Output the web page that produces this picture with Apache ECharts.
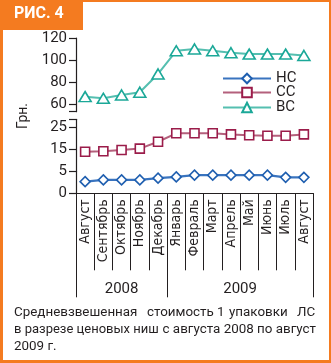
<!DOCTYPE html>
<html><head><meta charset="utf-8">
<script src="https://cdn.jsdelivr.net/npm/echarts@6/dist/echarts.min.js"></script>
<style>html,body{margin:0;padding:0;background:#fff}#c{width:331px;height:363px}</style>
</head><body><div id="c"></div>
<script>
const months = ['Август','Сентябрь','Октябрь','Ноябрь','Декабрь','Январь','Февраль','Март','Апрель','Май','Июнь','Июль','Август'];
const years = ['2008','2009'];
const yearBounds = [0,5,13];
const yearCenters = [2.5,9];
const seriesNames = ['НС','СС','ВС'];
const hcValues = [2.7,3.1,3.1,3.1,3.5,3.8,4.2,4.2,4.2,4.2,4.2,3.7,3.7];
const ccValues = [14.0,14.2,14.8,15.4,18.5,22.3,22.3,22.3,21.8,21.4,21.2,21.2,21.8];
const bcValues = [66.7,65.2,68.2,70.7,87.3,108.4,110,108.4,106.6,105.4,105.4,105.4,104.1];
const upperTicks = [60,80,100,120];
const middleTicks = [5,15,25];
const lowerTicks = [0];
const captionLine1 = ['Средневзвешенная','стоимость','1','упаковки','ЛС'];
const captionLine2a = 'в разрезе ценовых ниш';
const captionLine2b = 'с августа 2008 по август';
const captionLine3 = '2009 г.';

const INK = '#231f20';
const ORANGE = '#f47b20';
const FONT = 'Roboto';
const NARROW = '"Liberation Sans Narrow", "DejaVu Sans Condensed", Roboto';
const axisLineStyle = {color: INK, width: 1.2};

const chart = echarts.init(document.getElementById('c'), null, {renderer: 'canvas'});

function yAx(grid, min, max, tickVals, labelVals) {
  return {
    type: 'value', gridIndex: grid, min: min, max: max,
    axisLine: {show: true, lineStyle: axisLineStyle},
    axisTick: {show: true, length: 7, customValues: tickVals, lineStyle: axisLineStyle},
    axisLabel: {customValues: labelVals, fontSize: 15, fontFamily: FONT, color: INK, margin: 9},
    splitLine: {show: false}
  };
}

const wordX1 = [14,147,217,229,297];
const CAP = '13.4px Roboto';
const graphics = [
  {type:'rect', shape:{x:0,y:0,width:3,height:363}, style:{fill:ORANGE}},
  {type:'rect', shape:{x:0,y:0,width:331,height:2}, style:{fill:ORANGE}},
  {type:'rect', shape:{x:329,y:0,width:2,height:363}, style:{fill:ORANGE}},
  {type:'rect', shape:{x:0,y:360,width:331,height:3}, style:{fill:ORANGE}},
  {type:'rect', shape:{x:0,y:0,width:83,height:30}, style:{fill:ORANGE}},
  {type:'text', x:14, y:14, style:{text:'РИС. 4', fill:'#fff', font:'bold 16px Roboto', verticalAlign:'middle'}},
  {type:'text', x:23, y:116, rotation:Math.PI/2, style:{text:'Грн.', fill:INK, font:'14px Roboto', align:'center', verticalAlign:'middle'}},
  {type:'text', x:14, y:330, style:{text:captionLine2a, fill:INK, font:'13px Roboto', verticalAlign:'middle'}},
  {type:'text', x:316, y:330, style:{text:captionLine2b, fill:INK, font:CAP, align:'right', verticalAlign:'middle'}},
  {type:'text', x:14, y:347, style:{text:captionLine3, fill:INK, font:CAP, verticalAlign:'middle'}}
];
captionLine1.forEach((w,i)=>graphics.push({type:'text', x:wordX1[i], y:313, style:{text:w, fill:INK, font:CAP, verticalAlign:'middle'}}));

function legendAt(name, top) {
  return {
    data:[name], orient:'vertical', left: 222, top: top,
    itemWidth: 48, itemHeight: 12, padding: 0,
    textStyle:{fontSize:15, fontFamily:FONT, color:INK}
  };
}

const option = {
  animation: false,
  backgroundColor: '#fff',
  grid: [
    {left:76, width:237, top:38, height:73.7},
    {left:76, width:237, top:119.3, height:52.4},
    {left:76, width:237, top:171.7, height:21.6}
  ],
  legend: [legendAt(seriesNames[0], 71), legendAt(seriesNames[1], 85), legendAt(seriesNames[2], 100)],
  xAxis: [
    {type:'category', gridIndex:0, data:months, show:false},
    {type:'category', gridIndex:1, data:months, show:false},
    {type:'category', gridIndex:2, data:months,
      axisLine:{show:true, lineStyle:axisLineStyle},
      axisTick:{show:true, interval:0, length:77, lineStyle:{color:INK, width:1}},
      axisLabel:{interval:0, rotate:90, fontSize:14, fontFamily:NARROW, color:INK, margin:6}},
    {type:'value', gridIndex:2, min:0, max:13, position:'bottom',
      axisLine:{show:false},
      axisTick:{show:true, customValues:yearBounds, length:104, lineStyle:{color:INK, width:1}},
      axisLabel:{customValues:yearCenters, formatter:(v)=>years[yearCenters.indexOf(v)], fontSize:15, fontFamily:FONT, color:INK, margin:88},
      splitLine:{show:false}}
  ],
  yAxis: [
    yAx(0, 53, 120, [53].concat(upperTicks), upperTicks),
    yAx(1, 5, 28.6, middleTicks.concat([28.6]), middleTicks),
    yAx(2, 0, 5, lowerTicks, lowerTicks)
  ],
  series: [
    {name:seriesNames[0], type:'line', xAxisIndex:2, yAxisIndex:2, data:hcValues,
      symbol:'diamond', symbolSize:[10,10],
      lineStyle:{color:'#3a74bf', width:2.2},
      itemStyle:{color:'#fff', borderColor:'#1f5fb0', borderWidth:1.6}},
    {name:seriesNames[1], type:'line', xAxisIndex:1, yAxisIndex:1, data:ccValues,
      symbol:'rect', symbolSize:[9,9],
      lineStyle:{color:'#b4607c', width:2},
      itemStyle:{color:'#fff', borderColor:'#9b1c4a', borderWidth:1.6}},
    {name:seriesNames[2], type:'line', xAxisIndex:0, yAxisIndex:0, data:bcValues,
      symbol:'triangle', symbolSize:[12,10],
      lineStyle:{color:'#55bfb0', width:2},
      itemStyle:{color:'#fff', borderColor:'#1ba898', borderWidth:1.6}}
  ],
  graphic: graphics
};
chart.setOption(option);
</script></body></html>
